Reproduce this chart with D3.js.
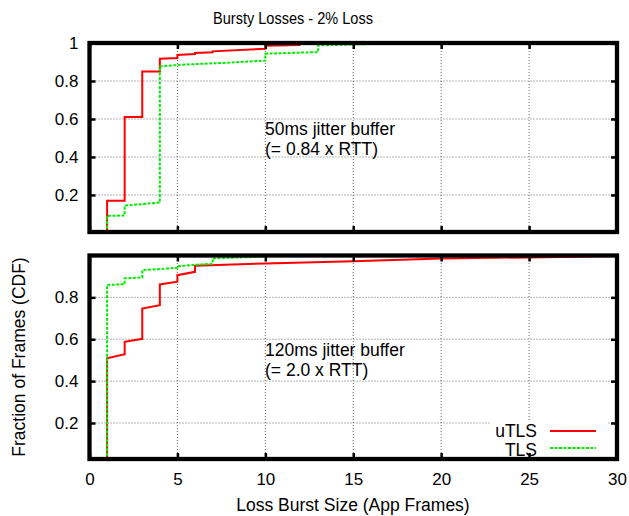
<!DOCTYPE html>
<html>
<head>
<meta charset="utf-8">
<script src="https://cdn.jsdelivr.net/npm/d3@7"></script>
<style>
  html, body { margin: 0; padding: 0; background: #fff; }
  svg { display: block; }
  text { font-family: "Liberation Sans", Arial, Helvetica, sans-serif; fill: #000; }
</style>
</head>
<body>
<svg id="chart" width="629" height="516"></svg>
<script>
// ---- data ----
const xTicks = [0, 5, 10, 15, 20, 25, 30];
const yTicksTop = [0.2, 0.4, 0.6, 0.8, 1];
const yTicksBottom = [0.2, 0.4, 0.6, 0.8];
const seriesNames = ["uTLS", "TLS"];

// Top panel: 50ms jitter buffer
const topUtlsX = [1, 1, 2, 2, 3, 3, 4, 4, 5, 5, 6, 6, 7, 7, 10, 10, 12];
const topUtlsY = [0, 0.17, 0.17, 0.61, 0.61, 0.85, 0.85, 0.917, 0.921, 0.937, 0.942, 0.947, 0.951, 0.956, 0.970, 0.985, 0.99];
const topTlsX = [1, 1, 2, 2, 4, 4, 5, 6, 7, 8, 9, 10, 10, 13, 13, 18];
const topTlsY = [0, 0.09, 0.092, 0.144, 0.16, 0.877, 0.884, 0.889, 0.893, 0.897, 0.902, 0.907, 0.944, 0.952, 0.987, 1.0];

// Bottom panel: 120ms jitter buffer
const botUtlsX = [1, 1, 2, 2, 3, 3, 4, 4, 5, 5, 6, 6, 10, 15, 20, 25, 30];
const botUtlsY = [0, 0.509, 0.528, 0.588, 0.602, 0.747, 0.763, 0.862, 0.875, 0.906, 0.922, 0.951, 0.962, 0.973, 0.986, 0.991, 0.998];
const botTlsX = [1, 1, 2, 2, 3, 3, 5, 5, 6, 7, 7, 10];
const botTlsY = [0, 0.859, 0.863, 0.891, 0.895, 0.930, 0.941, 0.948, 0.956, 0.960, 0.986, 0.995];

const titleText = "Bursty Losses - 2% Loss";
const xLabel = "Loss Burst Size (App Frames)";
const yLabel = "Fraction of Frames (CDF)";
const topNote = ["50ms jitter buffer", "(= 0.84 x RTT)"];
const botNote = ["120ms jitter buffer", "(= 2.0 x RTT)"];

// ---- layout ----
const svg = d3.select("#chart");
const X0 = 89.5, X1 = 617;
const x = d3.scaleLinear().domain([0, 30]).range([X0, X1]);

const panels = [
  { id: "top", y: d3.scaleLinear().domain([0.005, 1]).range([232, 43]), yTicks: yTicksTop,
    series: [[topUtlsX, topUtlsY], [topTlsX, topTlsY]], note: topNote, noteY: 135, xLabels: false },
  { id: "bot", y: d3.scaleLinear().domain([0.028, 1]).range([459, 255.5]), yTicks: yTicksBottom,
    series: [[botUtlsX, botUtlsY], [botTlsX, botTlsY]], note: botNote, noteY: 356, xLabels: true }
];

const colors = ["#ff0000", "#00ee00"];
const dashes = [null, "3,1.5"];

panels.forEach(p => {
  const y = p.y;
  const yTop = y.range()[1], yBot = y.range()[0];
  const g = svg.append("g");

  // clip
  svg.append("clipPath").attr("id", "clip-" + p.id)
    .append("rect").attr("x", X0).attr("y", yTop).attr("width", X1 - X0).attr("height", yBot - yTop);

  // grid
  const grid = g.append("g").attr("stroke", "#444").attr("stroke-width", 0.8)
    .attr("stroke-dasharray", "1,2").attr("fill", "none");
  x.ticks(6).filter(t => t > 0 && t < 30).forEach(t => {
    grid.append("line").attr("x1", x(t)).attr("x2", x(t)).attr("y1", yBot).attr("y2", yTop);
  });
  p.yTicks.filter(t => t < 1).forEach(t => {
    grid.append("line").attr("x1", X0).attr("x2", X1).attr("y1", y(t)).attr("y2", y(t));
  });

  // annotation
  const nt = g.append("text").attr("x", 265).attr("y", p.noteY).attr("font-size", 17.5);
  p.note.forEach((s, i) => nt.append("tspan").attr("x", 265).attr("dy", i === 0 ? 0 : 20).text(s));

  // legend box (bottom panel)
  if (p.xLabels) {
    g.append("rect").attr("x", 491).attr("y", 421).attr("width", 117).attr("height", 36).attr("fill", "#fff");
  }

  // series
  const line = d3.line().x(d => x(d[0])).y(d => y(d[1]));
  p.series.forEach((s, i) => {
    const pts = s[0].map((v, k) => [v, s[1][k]]);
    g.append("path").attr("d", line(pts)).attr("fill", "none")
      .attr("stroke", colors[i]).attr("stroke-width", 2)
      .attr("stroke-dasharray", dashes[i])
      .attr("clip-path", "url(#clip-" + p.id + ")");
  });

  // axes with inward ticks (using d3 axes, labels on outside)
  const yAxisL = d3.axisLeft(y).tickValues(p.yTicks).tickSize(-6).tickPadding(11).tickFormat(d3.format("~g"));
  const yAxisR = d3.axisRight(y).tickValues(p.yTicks).tickSize(-6).tickFormat("");
  const xAxisB = d3.axisBottom(x).tickValues(xTicks).tickSize(-6).tickPadding(14).tickFormat(p.xLabels ? d3.format("d") : "");
  const xAxisT = d3.axisTop(x).tickValues(xTicks).tickSize(-6).tickFormat("");

  const styleAxis = sel => {
    sel.select(".domain").remove();
    sel.selectAll(".tick line").attr("stroke", "#000").attr("stroke-width", 2.5);
    sel.selectAll(".tick text").attr("font-size", 17).attr("font-family", "Liberation Sans, Arial, sans-serif").attr("fill", "#000");
  };
  g.append("g").attr("transform", `translate(${X0},0)`).call(yAxisL).call(styleAxis);
  g.append("g").attr("transform", `translate(${X1},0)`).call(yAxisR).call(styleAxis);
  g.append("g").attr("transform", `translate(0,${yBot})`).call(xAxisB).call(styleAxis);
  g.append("g").attr("transform", `translate(0,${yTop})`).call(xAxisT).call(styleAxis);

  // frame
  g.append("rect").attr("x", X0).attr("y", yTop).attr("width", X1 - X0).attr("height", yBot - yTop)
    .attr("fill", "none").attr("stroke", "#000").attr("stroke-width", 4.3);

  // legend
  if (p.xLabels) {
    seriesNames.forEach((n, i) => {
      const ly = 431 + i * 19;
      g.append("text").attr("x", 537).attr("y", ly).attr("dy", "0.35em")
        .attr("text-anchor", "end").attr("font-size", 17.5).text(n);
      g.append("line").attr("x1", 550).attr("x2", 596).attr("y1", ly - (i ? 2 : 0)).attr("y2", ly - (i ? 2 : 0))
        .attr("stroke", colors[i]).attr("stroke-width", 2).attr("stroke-dasharray", dashes[i]);
    });
  }
});

// title and axis labels
svg.append("text").attr("x", 293).attr("y", 24).attr("text-anchor", "middle")
  .attr("font-size", 16.5).attr("textLength", 160).attr("lengthAdjust", "spacingAndGlyphs").text(titleText);
svg.append("text").attr("x", 353).attr("y", 511).attr("text-anchor", "middle")
  .attr("font-size", 17.5).text(xLabel);
svg.append("text").attr("transform", "translate(25,357) rotate(-90)").attr("text-anchor", "middle")
  .attr("font-size", 17.5).text(yLabel);
</script>
</body>
</html>
